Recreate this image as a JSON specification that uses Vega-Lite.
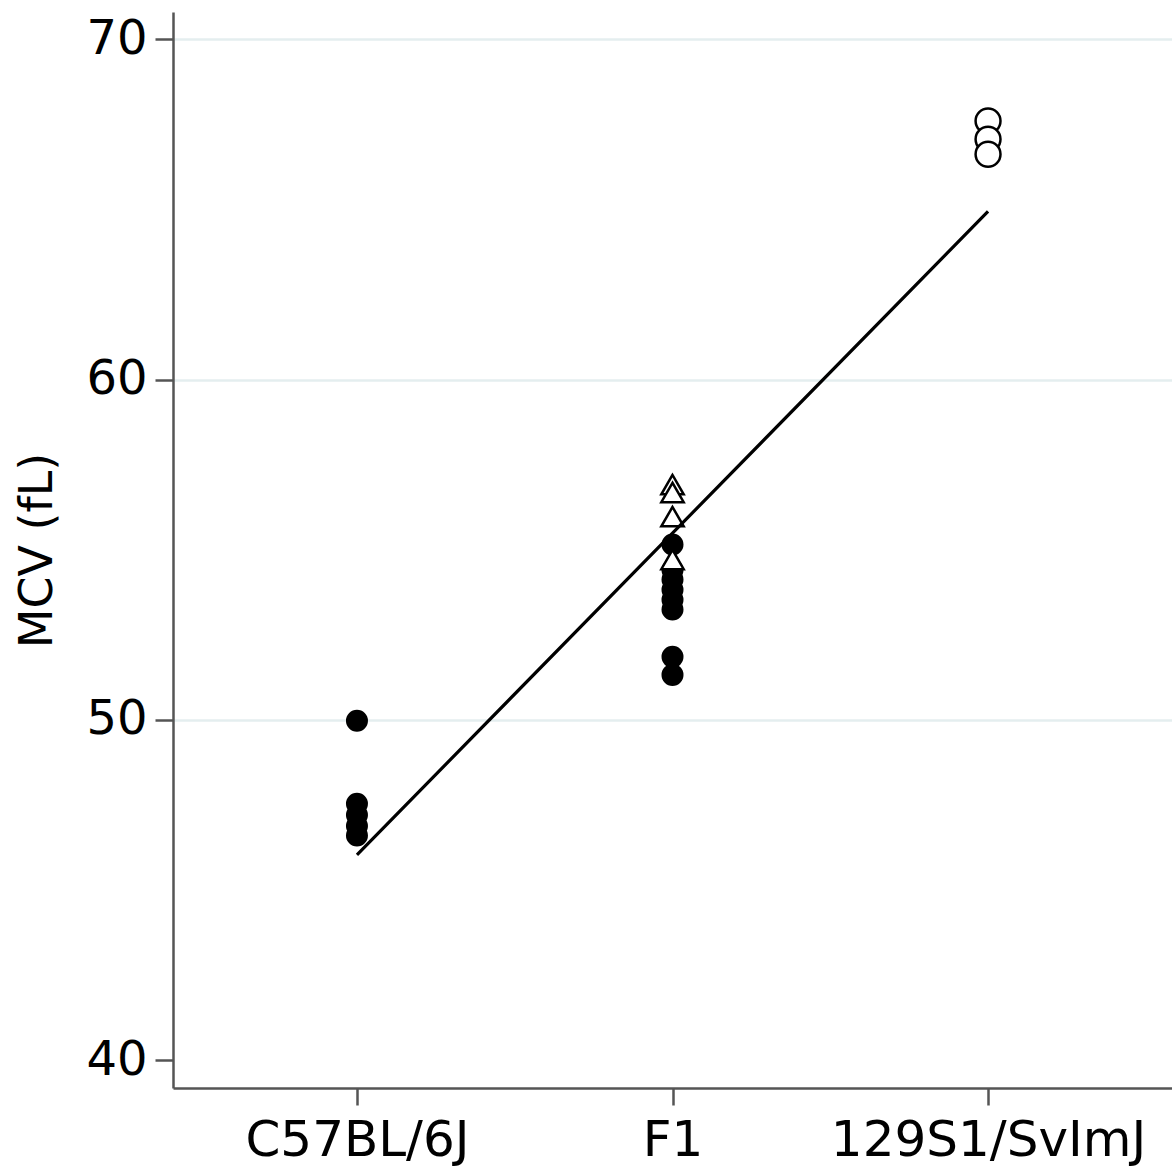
{
  "$schema": "https://vega.github.io/schema/vega-lite/v6.json",
  "width": 999,
  "height": 1076,
  "autosize": {"type": "none"},
  "padding": {"left": 173, "top": 12, "right": 0, "bottom": 81},
  "background": "white",
  "config": {
    "view": {"stroke": null},
    "font": "DejaVu Sans"
  },
  "datasets": {
    "obs": [
      {"strain": "C57BL/6J", "group": "B", "mcv": 49.97},
      {"strain": "C57BL/6J", "group": "B", "mcv": 47.53},
      {"strain": "C57BL/6J", "group": "B", "mcv": 47.2},
      {"strain": "C57BL/6J", "group": "B", "mcv": 46.88},
      {"strain": "C57BL/6J", "group": "B", "mcv": 46.6},
      {"strain": "F1", "group": "B", "mcv": 55.15},
      {"strain": "F1", "group": "B", "mcv": 54.4},
      {"strain": "F1", "group": "B", "mcv": 54.12},
      {"strain": "F1", "group": "B", "mcv": 53.82},
      {"strain": "F1", "group": "B", "mcv": 53.53},
      {"strain": "F1", "group": "B", "mcv": 53.24},
      {"strain": "F1", "group": "B", "mcv": 51.85},
      {"strain": "F1", "group": "B", "mcv": 51.32},
      {"strain": "F1", "group": "H", "mcv": 56.91},
      {"strain": "F1", "group": "H", "mcv": 56.68},
      {"strain": "F1", "group": "H", "mcv": 55.97},
      {"strain": "F1", "group": "H", "mcv": 54.71},
      {"strain": "129S1/SvImJ", "group": "S", "mcv": 67.6},
      {"strain": "129S1/SvImJ", "group": "S", "mcv": 67.06},
      {"strain": "129S1/SvImJ", "group": "S", "mcv": 66.62}
    ],
    "fit": [
      {"strain": "C57BL/6J", "mcv": 46.03},
      {"strain": "F1", "mcv": 55.485},
      {"strain": "129S1/SvImJ", "mcv": 64.94}
    ]
  },
  "encoding": {
    "x": {
      "field": "strain",
      "type": "ordinal",
      "sort": ["C57BL/6J", "F1", "129S1/SvImJ"],
      "scale": {"type": "point", "padding": 0.583, "domain": ["C57BL/6J", "F1", "129S1/SvImJ"]},
      "axis": {
        "title": null,
        "labelAngle": 0,
        "labelFontSize": 50,
        "labelLimit": 0,
        "labelColor": "black",
        "labelPadding": 10,
        "tickSize": 17,
        "tickColor": "#555",
        "tickWidth": 2.5,
        "domainColor": "#555",
        "domainWidth": 2.5,
        "grid": false
      }
    },
    "y": {
      "field": "mcv",
      "type": "quantitative",
      "scale": {"domain": [39.18, 70.8], "nice": false, "zero": false},
      "axis": {
        "title": "MCV (fL)",
        "titleFontSize": 46,
        "titleFontWeight": "normal",
        "titleColor": "black",
        "titlePadding": 24,
        "values": [40, 50, 60, 70],
        "labelFontSize": 48,
        "labelColor": "black",
        "labelPadding": 8,
        "tickSize": 18,
        "tickColor": "#555",
        "tickWidth": 2.5,
        "domainColor": "#555",
        "domainWidth": 2.5,
        "grid": true,
        "gridColor": "#e4eeef",
        "gridWidth": 2.5,
        "gridOpacity": {"condition": {"test": "datum.value == 40", "value": 0}, "value": 1}
      }
    }
  },
  "layer": [
    {
      "data": {"name": "obs"},
      "mark": {"type": "point", "stroke": "black", "strokeWidth": 2.5, "opacity": 1, "fillOpacity": 1},
      "encoding": {
        "shape": {
          "field": "group",
          "type": "nominal",
          "scale": {"domain": ["B", "H", "S"], "range": ["circle", "triangle-up", "circle"]},
          "legend": null
        },
        "fill": {
          "field": "group",
          "type": "nominal",
          "scale": {"domain": ["B", "H", "S"], "range": ["black", "white", "white"]},
          "legend": null
        },
        "size": {
          "field": "group",
          "type": "nominal",
          "scale": {"domain": ["B", "H", "S"], "range": [380, 620, 250]},
          "legend": null
        },
        "order": {"field": "group", "type": "nominal"}
      }
    },
    {
      "data": {"name": "fit"},
      "mark": {"type": "line", "color": "black", "strokeWidth": 3.2},
      "encoding": {}
    }
  ]
}
